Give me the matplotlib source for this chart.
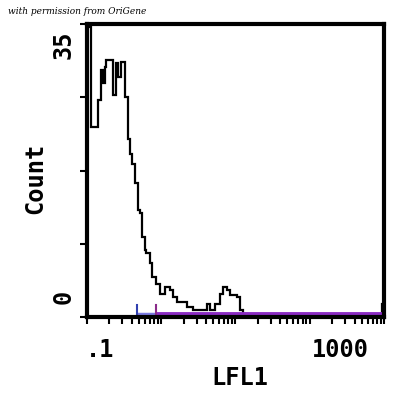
import numpy as np
import matplotlib
matplotlib.use("Agg")
from matplotlib import pyplot as plt
from matplotlib.ticker import LogLocator, NullFormatter

# histogram bins (LFL1 edges, counts)
edges = [0.1, 0.115, 0.141, 0.156, 0.164, 0.173, 0.182, 0.224, 0.244, 0.262,
         0.291, 0.323, 0.358, 0.377, 0.410, 0.441, 0.489, 0.515, 0.560, 0.602,
         0.634, 0.703, 0.764, 0.848, 0.960, 1.12, 1.31, 1.45, 1.61, 2.20,
         2.71, 4.10, 4.55, 5.31, 6.21, 6.89, 7.64, 8.47, 10.4, 11.6,
         12.8, 14.2, 948, 1000]
counts = [34.7, 22.7, 25.9, 29.5, 27.9, 29.9, 30.7, 26.5, 30.3, 28.7,
          30.5, 26.3, 21.3, 19.5, 18.3, 16.0, 12.8, 12.4, 9.6, 8.0,
          7.6, 6.4, 4.8, 4.0, 2.8, 3.6, 3.2, 2.4, 1.8, 1.2,
          0.8, 1.6, 0.8, 1.6, 2.8, 3.6, 3.2, 2.6, 2.4, 0.8,
          0.4, 0.0, 1.6]
gate_blue = [0.48, 0.85]
gate_purple = [0.85, 1000]

fig = plt.figure(figsize=(4.06, 4.0), dpi=100)
ax = fig.add_axes([0.214, 0.2075, 0.732, 0.7325])

ax.stairs(counts, edges, color='black', linewidth=1.6)
ax.plot(gate_blue, [0.35, 0.35], color='#7a7ae0', linewidth=2.5, solid_capstyle='butt')
ax.plot(gate_purple, [0.35, 0.35], color='#8a2bc2', linewidth=3.5, solid_capstyle='butt')
ax.plot([gate_blue[0]] * 2, [0, 1.4], color='#3040b0', linewidth=1.5)
ax.plot([gate_purple[0]] * 2, [0, 1.4], color='#8a2b8a', linewidth=1.5)

ax.set_xscale('log')
ax.set_xlim(0.1, 1000)
ax.set_ylim(0, 35)
ax.xaxis.set_major_locator(LogLocator(base=10))
ax.xaxis.set_minor_locator(LogLocator(base=10, subs=np.arange(2, 10)))
ax.xaxis.set_major_formatter(NullFormatter())
ax.xaxis.set_minor_formatter(NullFormatter())
ax.set_yticks(np.linspace(0, 35, 5))
ax.set_yticklabels([])
ax.tick_params(axis='both', which='both', direction='out', length=5, width=1.5)

for s in ax.spines.values():
    s.set_linewidth(3)

font = dict(family='DejaVu Sans Mono', fontweight='bold', fontsize=17)
fig.text(100 / 406, 1 - 350 / 400, '.1', ha='center', va='center', **font)
fig.text(340 / 406, 1 - 350 / 400, '1000', ha='center', va='center', **font)
fig.text(64 / 406, 1 - 45 / 400, '35', ha='center', va='center', rotation=90, **font)
fig.text(64 / 406, 1 - 297 / 400, '0', ha='center', va='center', rotation=90, **font)
fig.text(35 / 406, 1 - 178 / 400, 'Count', ha='center', va='center', rotation=90, **font)
fig.text(240 / 406, 1 - 378 / 400, 'LFL1', ha='center', va='center', **font)
fig.text(8 / 406, 1 - 12 / 400, 'with permission from OriGene', ha='left', va='center',
         family='DejaVu Serif', style='italic', fontsize=6.5)

fig.savefig('out.png', dpi=100)
